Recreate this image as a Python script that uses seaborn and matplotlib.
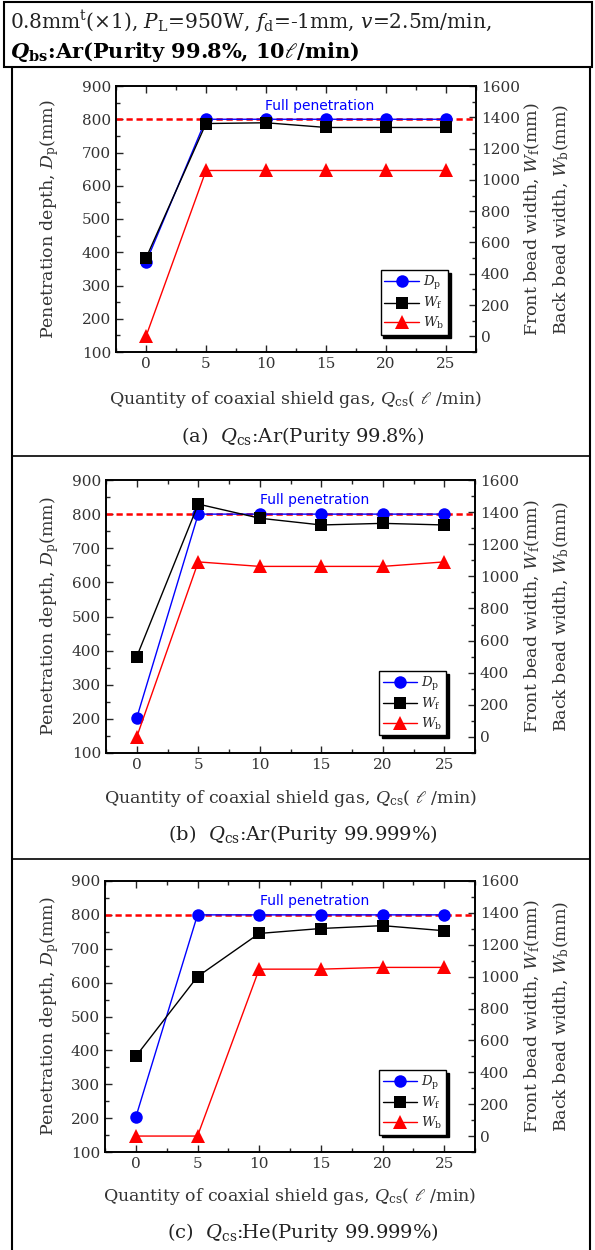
import matplotlib
matplotlib.use("Agg")
import matplotlib.pyplot as plt
import seaborn as sns
from matplotlib.lines import Line2D
from matplotlib.patches import Rectangle
from matplotlib.ticker import MultipleLocator

# flow rate of coaxial shield gas (l/min)
q_cs = [0, 5, 10, 15, 20, 25]

# (a) Ar 99.8%
dp_a = [370, 800, 800, 800, 800, 800]
wf_a = [500, 1360, 1365, 1335, 1335, 1335]
wb_a = [0, 1060, 1060, 1060, 1060, 1060]
# (b) Ar 99.999%
dp_b = [203, 800, 800, 800, 800, 800]
wf_b = [500, 1450, 1362, 1320, 1330, 1320]
wb_b = [0, 1090, 1062, 1062, 1062, 1090]
# (c) He 99.999%
dp_c = [203, 800, 800, 800, 800, 800]
wf_c = [500, 1000, 1271, 1302, 1320, 1288]
wb_c = [0, 0, 1047, 1047, 1058, 1058]

captions = [r"(a)  $Q_{\mathrm{cs}}$:Ar(Purity 99.8%)",
            r"(b)  $Q_{\mathrm{cs}}$:Ar(Purity 99.999%)",
            r"(c)  $Q_{\mathrm{cs}}$:He(Purity 99.999%)"]

sns.set_style("ticks")
plt.rcParams["font.family"] = ["DejaVu Serif", "DejaVu Sans"]
plt.rcParams["mathtext.fontset"] = "dejavuserif"

W, H = 595, 1250
fig = plt.figure(figsize=(W / 100, H / 100), dpi=100)

def box(l, t, r, b):
    return [l / W, 1 - b / H, (r - l) / W, (b - t) / H]

# pixel boxes of the three plots: left, top, right, bottom
boxes = [(116, 86, 476, 352), (106, 480, 475, 753), (105, 881, 475, 1152)]
label_y = [389, 788, 1186]   # top of x label
cap_y = [437, 835, 1233]
series = [(dp_a, wf_a, wb_a), (dp_b, wf_b, wb_b), (dp_c, wf_c, wb_c)]

tick_col = "#333333"
for i, (dp, wf, wb) in enumerate(series):
    l, t, r, b = boxes[i]
    ax = fig.add_axes(box(l, t, r, b))
    ax2 = ax.twinx()

    ax.axhline(800, color="red", ls="--", lw=1.8, dashes=(2.5, 1.5), zorder=1)
    sns.lineplot(x=q_cs, y=dp, ax=ax, color="blue", lw=1, marker="o",
                 markersize=9, markeredgewidth=0, label=r"$D_{\mathrm{p}}$")
    sns.lineplot(x=q_cs, y=wf, ax=ax2, color="black", lw=1, marker="s",
                 markersize=8, markeredgewidth=0, label=r"$W_{\mathrm{f}}$")
    sns.lineplot(x=q_cs, y=wb, ax=ax2, color="red", lw=1, marker="^",
                 markersize=10, markeredgewidth=0, label=r"$W_{\mathrm{b}}$")
    for a in (ax, ax2):
        if a.get_legend():
            a.get_legend().remove()

    ax.set_xlim(-2.5, 27.5)
    ax.set_ylim(100, 900)
    ax.xaxis.set_major_locator(MultipleLocator(5))
    ax.xaxis.set_minor_locator(MultipleLocator(2.5))
    ax.yaxis.set_major_locator(MultipleLocator(100))
    ax.yaxis.set_minor_locator(MultipleLocator(50))
    ax2.set_yticks(range(0, 1601, 200))
    ax2.yaxis.set_minor_locator(MultipleLocator(100))
    ax2.set_ylim(-100, 1600)

    ax.tick_params(which="both", direction="in", top=True, right=False,
                   labelsize=11, labelcolor=tick_col, width=1)
    ax.tick_params(which="major", length=5)
    ax.tick_params(which="minor", length=3)
    ax2.tick_params(which="both", direction="in", labelsize=11,
                    labelcolor=tick_col, width=1)
    ax2.tick_params(which="major", length=5)
    ax2.tick_params(which="minor", length=3)
    for a in (ax, ax2):
        for s in a.spines.values():
            s.set_visible(True)
            s.set_linewidth(1.2)
            s.set_color("black")

    ax.text(14.5, 840, "Full penetration", color="blue", fontsize=10,
            family="DejaVu Sans", ha="center", va="center")

    ax.set_xlabel(r"Quantity of coaxial shield gas, $Q_{\mathrm{cs}}$( $\ell$ /min)",
                  fontsize=12.5, color=tick_col)
    ax.set_ylabel(r"Penetration depth, $D_{\mathrm{p}}$(mm)", fontsize=12.5,
                  color=tick_col)
    ax.xaxis.set_label_coords(0.5, (b - label_y[i]) / (b - t))
    ax.yaxis.set_label_coords((61 - l) / (r - l), 0.5)
    ax2.set_ylabel("")
    ax2.text((532 - l) / (r - l), 0.5, r"Front bead width, $W_{\mathrm{f}}$(mm)",
             rotation=90, transform=ax2.transAxes, ha="center", va="center",
             fontsize=12.5, color=tick_col)
    ax2.text((561 - l) / (r - l), 0.5, r"Back bead width, $W_{\mathrm{b}}$(mm)",
             rotation=90, transform=ax2.transAxes, ha="center", va="center",
             fontsize=12.5, color=tick_col)

    h1, l1 = ax.get_legend_handles_labels()
    h2, l2 = ax2.get_legend_handles_labels()
    ax2.legend(h1 + h2, l1 + l2, loc="lower right", bbox_to_anchor=(0.94, 0.04),
               frameon=True, fancybox=False, shadow={"color": "black", "alpha": 1},
               edgecolor="black", framealpha=1, fontsize=9.5, handlelength=2.6,
               borderpad=0.3, labelspacing=0.25, handletextpad=0.3)

    fig.text(303 / W, 1 - cap_y[i] / H, captions[i], ha="center", va="center",
             fontsize=14, color="#222222")

# header text
fig.text(10 / W, 1 - 22 / H,
         r"0.8mm$^{\mathrm{t}}$(×1), $P_{\mathrm{L}}$=950W, $f_{\mathrm{d}}$=-1mm, $v$=2.5m/min,",
         ha="left", va="center", fontsize=14.5, color="#222222")
fig.text(10 / W, 1 - 52 / H,
         r"$\mathbfit{Q}_{\mathbf{bs}}$:Ar(Purity 99.8%, 10$\ell$/min)",
         ha="left", va="center", fontsize=15, fontweight="bold", color="black")

# table borders
fig.add_artist(Rectangle((4 / W, 1 - 67 / H), 588 / W, 65 / H, transform=fig.transFigure,
                         fill=False, lw=1.5, ec="black"))
for x in (12, 590):
    fig.add_artist(Line2D([x / W, x / W], [0, 1 - 67 / H], transform=fig.transFigure,
                          color="black", lw=1.5))
for y in (456, 859):
    fig.add_artist(Line2D([12 / W, 590 / W], [1 - y / H, 1 - y / H],
                          transform=fig.transFigure, color="black", lw=1.2))

fig.savefig("out.png", dpi=100)
